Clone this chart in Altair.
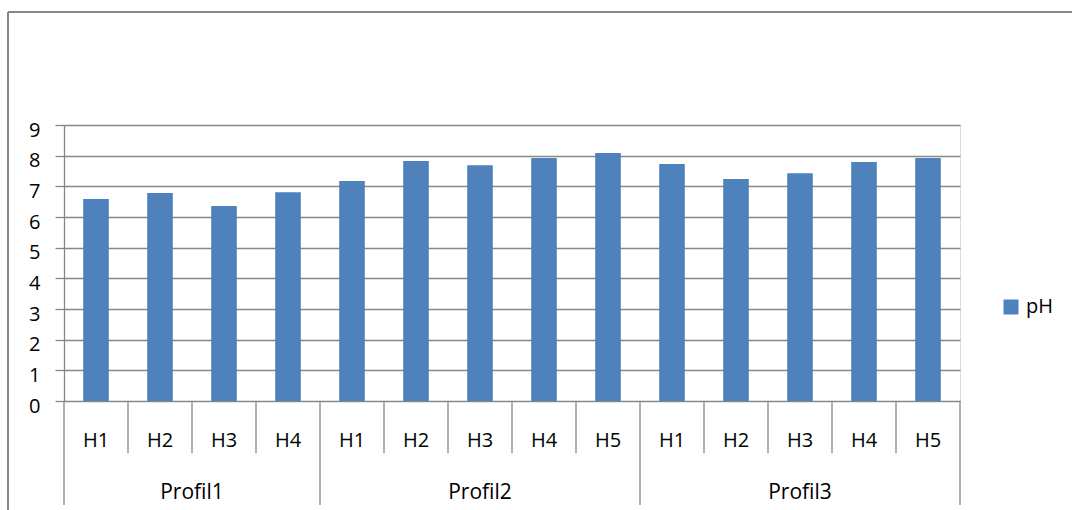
import altair as alt
import pandas as pd

# pH values per horizon, grouped by soil profile
profiles = ["Profil1", "Profil2", "Profil3"]
horizons_per_profile = [
    ["H1", "H2", "H3", "H4"],
    ["H1", "H2", "H3", "H4", "H5"],
    ["H1", "H2", "H3", "H4", "H5"],
]
ph_values = [6.59, 6.78, 6.36, 6.81,
             7.17, 7.83, 7.69, 7.92, 8.09,
             7.73, 7.24, 7.43, 7.79, 7.92]
y_ticks = list(range(0, 10))

BAR = "#4F81BD"
GRID = "#868686"
FONT = "Open Sans"

W, H = 896, 276
LEFT, TOP = 64, 125

# one slot per horizon along a numeric x scale
rows = []
i = 0
for prof, hs in zip(profiles, horizons_per_profile):
    for h in hs:
        rows.append({"slot": i, "profil": prof, "horizon": h,
                     "pH": ph_values[i], "serie": "pH"})
        i += 1
df = pd.DataFrame(rows)
df["mid"] = df["slot"] + 0.5
df["x0"] = df["slot"] + 0.3
df["x1"] = df["slot"] + 0.7
n = len(df)

# group centres and boundaries
groups = []
bounds = [0]
start = 0
for prof, hs in zip(profiles, horizons_per_profile):
    groups.append({"profil": prof, "mid": start + len(hs) / 2})
    start += len(hs)
    bounds.append(start)
gdf = pd.DataFrame(groups)
short_sep = pd.DataFrame({"b": [k for k in range(n + 1) if k not in bounds]})
long_sep = pd.DataFrame({"b": bounds})

xs = alt.Scale(domain=[0, n], nice=False, zero=False)
ys = alt.Scale(domain=[0, 9], nice=False)

bars = alt.Chart(df).mark_bar(color=BAR).encode(
    x=alt.X("x0:Q", scale=xs, axis=None),
    x2="x1:Q",
    y=alt.Y("pH:Q", scale=ys,
            axis=alt.Axis(values=y_ticks, title=None, grid=True,
                          gridColor=GRID, gridWidth=1.3, gridOpacity=1,
                          domainColor=GRID, domainWidth=1.3,
                          tickColor=GRID, tickWidth=1.3, tickSize=9,
                          labelFont=FONT, labelFontSize=20,
                          labelColor="black", labelPadding=15,
                          labelOffset=5)),
    y2=alt.datum(0),
    color=alt.Color("serie:N", scale=alt.Scale(range=[BAR]),
                    legend=alt.Legend(title=None, orient="none",
                                      legendX=937, legendY=172,
                                      symbolType="square", symbolSize=225,
                                      symbolStrokeWidth=0,
                                      labelFont=FONT, labelFontSize=20,
                                      labelColor="black", labelOffset=5,
                                      padding=0)),
)

h_labels = alt.Chart(df).mark_text(font=FONT, fontSize=20, color="black",
                                   baseline="middle").encode(
    x=alt.X("mid:Q", scale=xs), y=alt.value(H + 40), text="horizon:N")

p_labels = alt.Chart(gdf).mark_text(font=FONT, fontSize=21, color="black",
                                    baseline="middle").encode(
    x=alt.X("mid:Q", scale=xs), y=alt.value(H + 92), text="profil:N")

short_rules = alt.Chart(short_sep).mark_rule(color=GRID, strokeWidth=1.3).encode(
    x=alt.X("b:Q", scale=xs), y=alt.value(H), y2=alt.value(H + 52))

long_rules = alt.Chart(long_sep).mark_rule(color=GRID, strokeWidth=1.3).encode(
    x=alt.X("b:Q", scale=xs), y=alt.value(H), y2=alt.value(H + 104))

# outer chart frame (top and left edges)
frame_top = alt.Chart(df).mark_rule(color=GRID, strokeWidth=2).encode(
    x=alt.value(-56), x2=alt.value(1072 - LEFT), y=alt.value(-113))
frame_left = alt.Chart(df).mark_rule(color=GRID, strokeWidth=2).encode(
    x=alt.value(-56), y=alt.value(-113), y2=alt.value(510 - TOP))

chart = alt.layer(
    frame_top, frame_left, bars, short_rules, long_rules, h_labels, p_labels
).properties(
    width=W, height=H,
    autosize=alt.AutoSizeParams(type="none"),
    padding={"left": LEFT, "top": TOP, "right": 1072 - LEFT - W,
             "bottom": 510 - TOP - H},
).configure_view(stroke=None).configure(background="white")

chart.save("out.html", embed_options={"renderer": "svg", "actions": False})
